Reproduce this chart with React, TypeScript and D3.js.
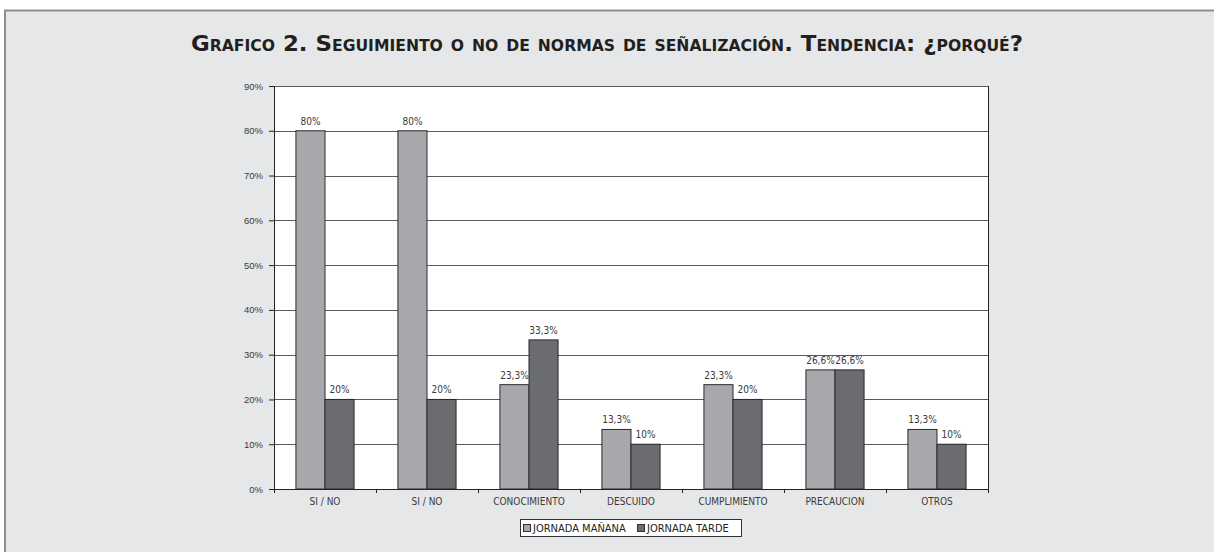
import { useLayoutEffect, useRef } from "react";
import * as d3 from "d3";

const categories = ["SI / NO", "SI / NO", "CONOCIMIENTO", "DESCUIDO", "CUMPLIMIENTO", "PRECAUCION", "OTROS"];
const manana = [80, 80, 23.3, 13.3, 23.3, 26.6, 13.3];
const tarde = [20, 20, 33.3, 10, 20, 26.6, 10];
const mananaLabels = ["80%", "80%", "23,3%", "13,3%", "23,3%", "26,6%", "13,3%"];
const tardeLabels = ["20%", "20%", "33,3%", "10%", "20%", "26,6%", "10%"];
const yTicks = [0, 10, 20, 30, 40, 50, 60, 70, 80, 90];
const seriesNames = ["JORNADA MAÑANA", "JORNADA TARDE"];
const title = "Grafico 2. Seguimiento o no de normas de señalización. Tendencia: ¿porqué?";

const W = 1214;
const H = 552;
const colors = ["#a7a8ab", "#6b6c70"];
const font = "'Liberation Sans', Arial, sans-serif";
const cond = "'DejaVu Sans Condensed', 'DejaVu Sans', sans-serif";

const App = () => {
  const svgRef = useRef<SVGSVGElement>(null);

  useLayoutEffect(() => {
    document.body.style.margin = "0";
    const svg = d3.select(svgRef.current);

    const left = 274, right = 988, top = 86, bottom = 489;

    const x = d3.scaleBand().domain(categories.map((_, i) => String(i))).range([left, right]).paddingInner(0.43).paddingOuter(0.215);
    const xs = d3.scaleBand().domain(["0", "1"]).range([0, x.bandwidth()]);
    const y = d3.scaleLinear().domain([0, 90]).range([bottom, top]);

    // frame
    svg.append("rect").attr("x", 5).attr("y", 10.5).attr("width", W + 10).attr("height", H)
      .attr("fill", "#e6e7e8").attr("stroke", "#8e8e8e").attr("stroke-width", 2);

    svg.append("text")
      .attr("x", W / 2).attr("y", 51)
      .attr("text-anchor", "middle")
      .attr("font-family", cond)
      .attr("font-weight", "bold")
      .attr("font-size", 22)
      .style("font-variant", "small-caps")
      .attr("fill", "#231f20")
      .attr("textLength", 832)
      .attr("lengthAdjust", "spacingAndGlyphs")
      .text(title);

    // plot area
    svg.append("rect").attr("x", left).attr("y", top).attr("width", right - left).attr("height", bottom - top).attr("fill", "#fff");

    svg.append("g").selectAll("line").data(yTicks.slice(1)).join("line")
      .attr("x1", left).attr("x2", right)
      .attr("y1", (d) => Math.round(y(d)) + 0.5).attr("y2", (d) => Math.round(y(d)) + 0.5)
      .attr("stroke", "#5a5a5a").attr("stroke-width", 1);

    // bars
    const groups = svg.append("g").selectAll("g").data(categories).join("g")
      .attr("transform", (_, i) => `translate(${x(String(i))},0)`);

    [manana, tarde].forEach((vals, s) => {
      groups.append("rect")
        .attr("x", xs(String(s)))
        .attr("y", (_, i) => y(vals[i]))
        .attr("width", xs.bandwidth())
        .attr("height", (_, i) => bottom - y(vals[i]))
        .attr("fill", colors[s])
        .attr("stroke", "#2a2a2a")
        .attr("stroke-width", 1);
      const labels = s === 0 ? mananaLabels : tardeLabels;
      groups.append("text")
        .attr("x", xs(String(s)) + xs.bandwidth() / 2)
        .attr("y", (_, i) => y(vals[i]) - 6)
        .attr("text-anchor", "middle")
        .attr("font-family", cond)
        .attr("font-size", 10)
        .attr("fill", "#3a3a3a")
        .text((_, i) => labels[i]);
    });

    // axes
    const yAxis = svg.append("g").attr("transform", `translate(${left},0)`)
      .call(d3.axisLeft(y).tickValues(yTicks).tickSize(5).tickPadding(6).tickFormat((d) => `${d}%`));
    yAxis.select(".domain").attr("stroke", "#222");
    yAxis.selectAll("line").attr("stroke", "#222");
    yAxis.selectAll("text").attr("font-family", font).attr("font-size", 9.5).attr("fill", "#3a3a3a");

    svg.append("line").attr("x1", right + 0.5).attr("x2", right + 0.5).attr("y1", top).attr("y2", bottom).attr("stroke", "#222");

    const step = x.step();
    const bounds = d3.range(categories.length + 1).map((i) => left + i * step);
    svg.append("line").attr("x1", left).attr("x2", right).attr("y1", bottom + 0.5).attr("y2", bottom + 0.5).attr("stroke", "#222");
    svg.append("g").selectAll("line").data(bounds).join("line")
      .attr("x1", (d) => Math.round(d) + 0.5).attr("x2", (d) => Math.round(d) + 0.5)
      .attr("y1", bottom).attr("y2", bottom + 4).attr("stroke", "#222");

    svg.append("g").selectAll("text").data(categories).join("text")
      .attr("x", (_, i) => x(String(i)) + x.bandwidth() / 2)
      .attr("y", 505)
      .attr("text-anchor", "middle")
      .attr("font-family", cond)
      .attr("font-size", 10)
      .attr("fill", "#3a3a3a")
      .text((d) => d);

    // legend
    const lg = svg.append("g");
    lg.append("rect").attr("x", 520.5).attr("y", 519.5).attr("width", 221).attr("height", 17)
      .attr("fill", "#fff").attr("stroke", "#333");
    const lx = [523, 637];
    seriesNames.forEach((n, i) => {
      lg.append("rect").attr("x", lx[i] + 0.5).attr("y", 524.5).attr("width", 7).attr("height", 7)
        .attr("fill", colors[i]).attr("stroke", "#333");
      lg.append("text").attr("x", lx[i] + 10).attr("y", 532)
        .attr("font-family", cond).attr("font-size", 11).attr("fill", "#222").text(n);
    });

    return () => { svg.selectAll("*").remove(); };
  }, []);

  return <svg ref={svgRef} width={W} height={H} style={{ display: "block" }} />;
};

export default App;
